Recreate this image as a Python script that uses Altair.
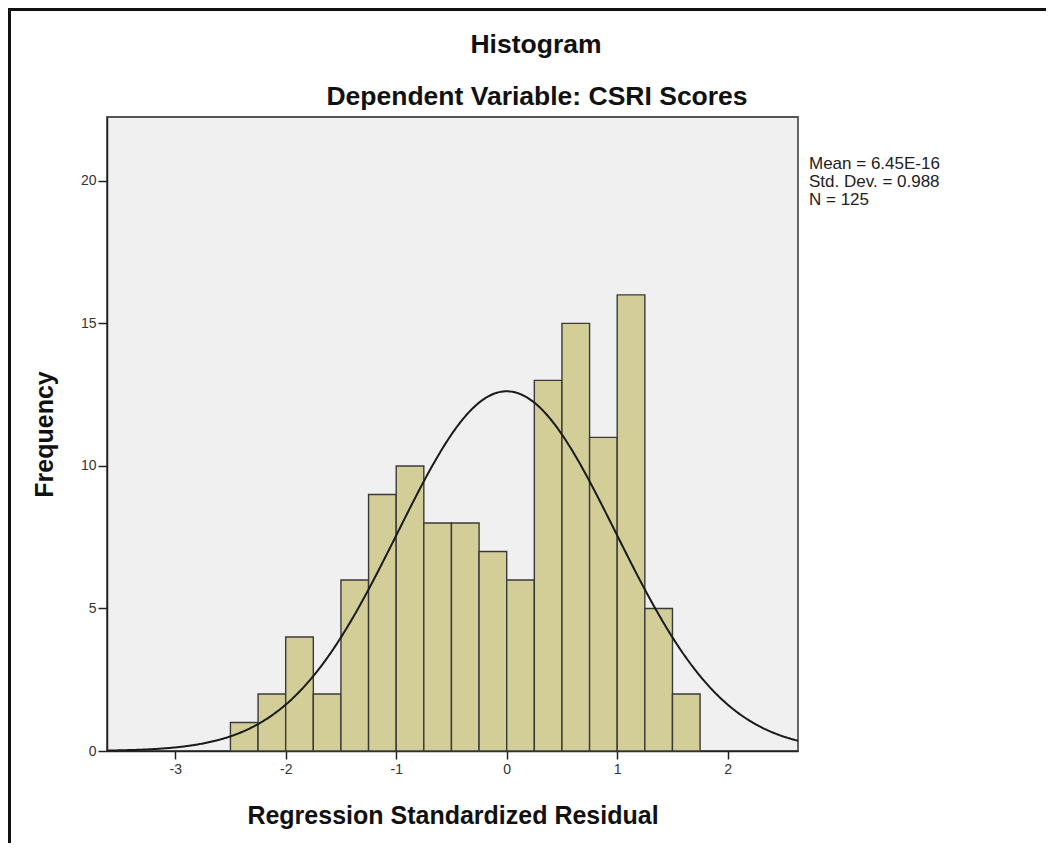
import altair as alt
import pandas as pd

# ---- data ----
bin_starts = [-2.5, -2.25, -2.0, -1.75, -1.5, -1.25, -1.0, -0.75, -0.5, -0.25,
              0.0, 0.25, 0.5, 0.75, 1.0, 1.25, 1.5]
counts = [1, 2, 4, 2, 6, 9, 10, 8, 8, 7, 6, 13, 15, 11, 16, 5, 2]
bin_width = 0.25
mean_val = 6.45e-16
sd_val = 0.988
n_val = 125
x_ticks = [-3, -2, -1, 0, 1, 2]
y_ticks = [0, 5, 10, 15, 20]
x_domain = [-3.617, 2.636]
y_domain = [0, 22.24]
stats_lines = ["Mean = 6.45E-16", "Std. Dev. = 0.988", "N = 125"]
title_text = "Histogram"
subtitle_text = "Dependent Variable: CSRI Scores"

FONT = "Liberation Sans"
W, H = 691, 634

bars_df = pd.DataFrame({"start": bin_starts, "count": counts})
bars_df["end"] = bars_df["start"] + bin_width

xscale = alt.Scale(domain=x_domain, nice=False, zero=False)
yscale = alt.Scale(domain=y_domain, nice=False)

xaxis = alt.Axis(values=x_ticks, title="Regression Standardized Residual",
                 grid=False, tickSize=8, labelPadding=3, titlePadding=27,
                 labelExpr="toString(datum.value)")
yaxis = alt.Axis(values=y_ticks, title="Frequency", grid=False, tickSize=9,
                 labelPadding=2, titlePadding=23,
                 labelExpr="toString(datum.value)")

bars = alt.Chart(bars_df).mark_rect(
    fill="#D3CE97", stroke="#3a3a3a", strokeWidth=1.4
).encode(
    x=alt.X("start:Q", scale=xscale, axis=xaxis),
    x2="end:Q",
    y=alt.Y("count:Q", scale=yscale, axis=yaxis),
    y2=alt.datum(0),
)

curve = alt.Chart(
    alt.sequence(start=x_domain[0], stop=x_domain[1] + 0.01, step=0.01, as_="x")
).transform_calculate(
    y=f"{n_val}*{bin_width}/({sd_val}*sqrt(2*PI))*exp(-0.5*pow((datum.x-{mean_val})/{sd_val},2))"
).mark_line(color="#1a1a1a", strokeWidth=2, clip=True).encode(
    x=alt.X("x:Q", scale=xscale),
    y=alt.Y("y:Q", scale=yscale),
)

stats = alt.Chart(pd.DataFrame({"t": ["\n".join(stats_lines)]})).mark_text(
    align="left", baseline="top", font=FONT, fontSize=17, lineHeight=18,
    lineBreak="\n", color="#222222"
).encode(
    x=alt.value(W + 11), y=alt.value(39), text="t:N"
)

title_mark = alt.Chart(pd.DataFrame({"t": [title_text]})).mark_text(
    align="center", baseline="middle", font=FONT, fontSize=26.5,
    fontWeight="bold", color="#111111"
).encode(x=alt.value(429), y=alt.value(-72), text="t:N")

subtitle_mark = alt.Chart(pd.DataFrame({"t": [subtitle_text]})).mark_text(
    align="center", baseline="middle", font=FONT, fontSize=26.5,
    fontWeight="bold", color="#111111"
).encode(x=alt.value(430), y=alt.value(-20), text="t:N")

frame_top = alt.Chart(pd.DataFrame({"a": [0]})).mark_rule(
    color="#111111", strokeWidth=3
).encode(x=alt.value(-99), x2=alt.value(1040), y=alt.value(-107.5))

frame_left = alt.Chart(pd.DataFrame({"a": [0]})).mark_rule(
    color="#111111", strokeWidth=3
).encode(x=alt.value(-97.5), y=alt.value(-109), y2=alt.value(H + 95))

chart = alt.layer(
    bars, curve, stats, title_mark, subtitle_mark, frame_top, frame_left
).properties(
    width=W, height=H,
    autosize=alt.AutoSizeParams(type="none"),
    padding={"left": 99, "top": 109, "right": 248, "bottom": 92},
    background="white",
).configure_view(
    fill="#F0F0F0", stroke="#555555", strokeWidth=1.8
).configure_axis(
    domainColor="#222222", domainWidth=1.5, tickColor="#222222",
    tickWidth=1.5, labelFont=FONT, labelFontSize=14, labelColor="#333333",
    titleFont=FONT, titleFontSize=25, titleFontWeight="bold",
    titleColor="#111111",
)

chart.save("out.html", embed_options={"renderer": "svg", "actions": False})
